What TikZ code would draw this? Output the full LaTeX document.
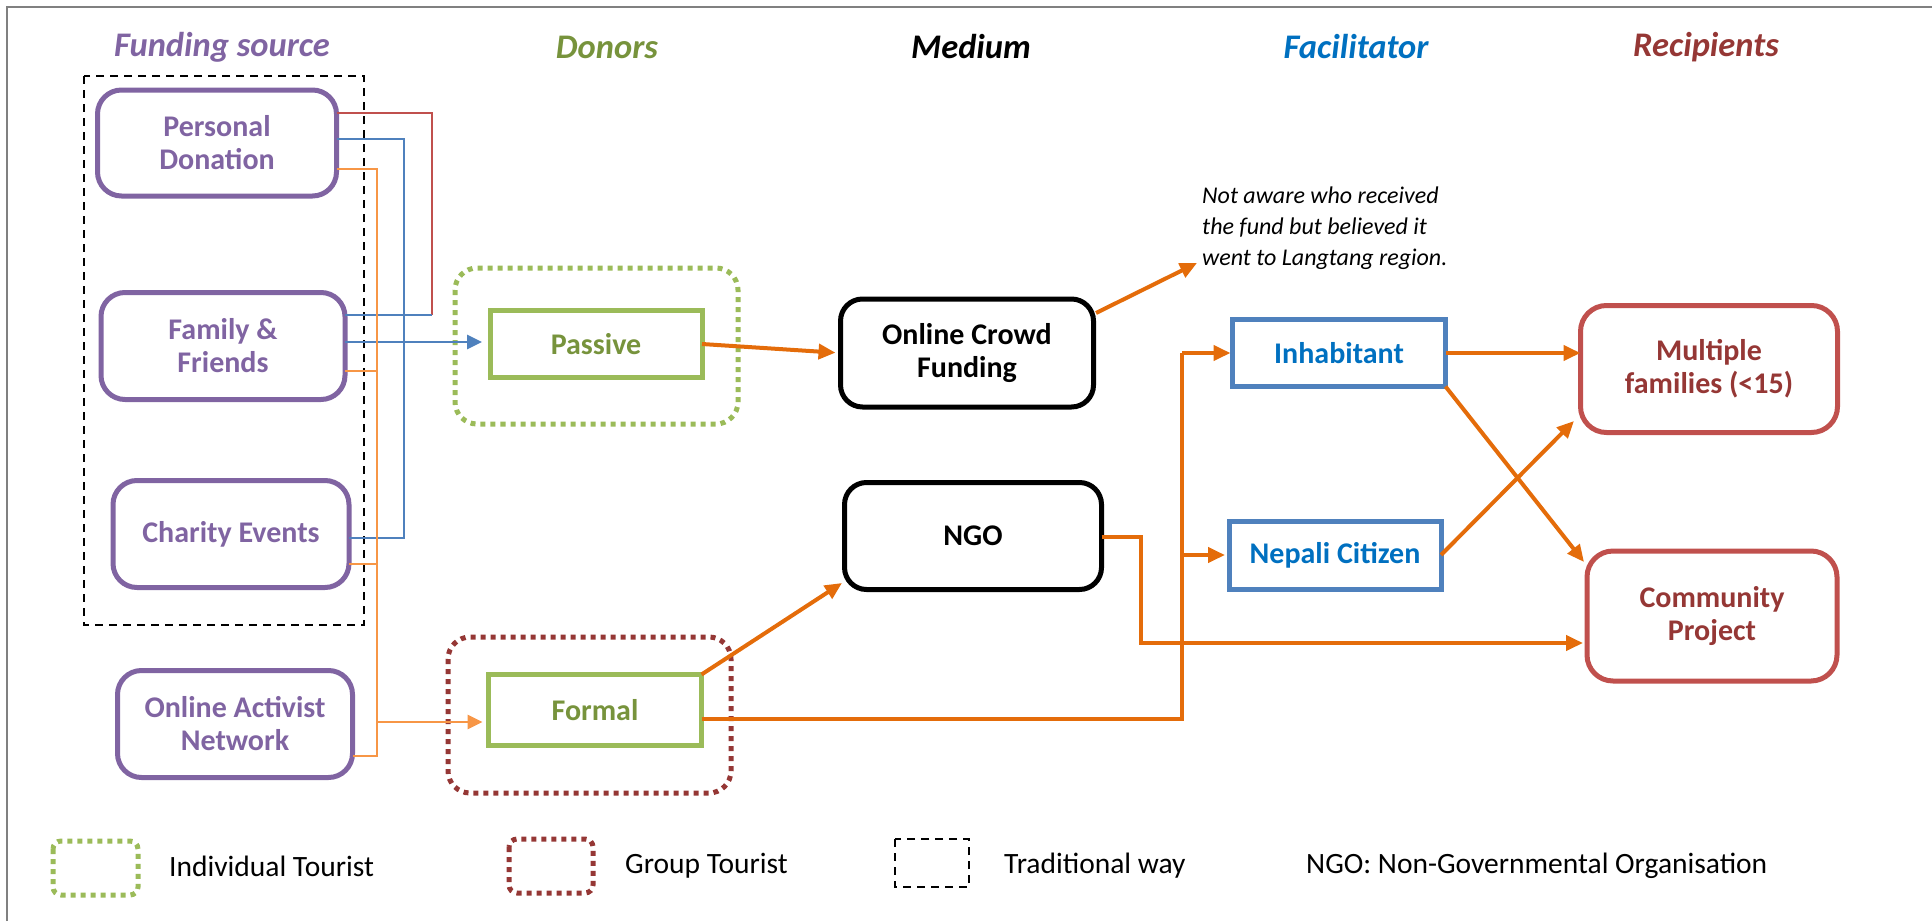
\documentclass[tikz,border=0pt]{standalone}
\usepackage{fontspec}
\setmainfont{Carlito}
\usetikzlibrary{arrows.meta}

\definecolor{purp}{HTML}{8064A2}
\definecolor{grn}{HTML}{9BBB59}
\definecolor{grntxt}{HTML}{77933C}
\definecolor{blu}{HTML}{4F81BD}
\definecolor{blutxt}{HTML}{0070C0}
\definecolor{rd}{HTML}{C0504D}
\definecolor{rdtxt}{HTML}{953735}
\definecolor{dkred}{HTML}{953735}
\definecolor{orng}{HTML}{E46C0A}
\definecolor{ltorng}{HTML}{F79646}
\definecolor{framegray}{HTML}{808080}

\tikzset{
  boxbase/.style={draw, line width=5pt, inner sep=0pt, outer sep=0pt, align=center,
    font=\fontsize{30}{33}\selectfont\bfseries},
  srcbox/.style={boxbase, draw=purp, text=purp, rounded corners=24pt},
  donorbox/.style={boxbase, draw=grn, text=grntxt},
  mediumbox/.style={boxbase, draw=black, text=black, rounded corners=22pt},
  facbox/.style={boxbase, draw=blu, text=blutxt},
  recbox/.style={boxbase, draw=rd, text=rdtxt, rounded corners=26pt},
  indiv/.style={draw=grn, line width=5pt, dash pattern=on 5pt off 5pt, rounded corners=22pt},
  group/.style={draw=dkred, line width=5pt, dash pattern=on 5pt off 5pt, rounded corners=22pt},
  legindiv/.style={draw=grn, line width=5pt, dash pattern=on 5pt off 5pt, rounded corners=8pt},
  leggroup/.style={draw=dkred, line width=5pt, dash pattern=on 5pt off 5pt, rounded corners=8pt},
  trad/.style={draw=black, line width=2.2pt, dash pattern=on 8pt off 6pt},
  heading/.style={font=\fontsize{34.5}{40}\selectfont\bfseries\itshape},
  legtext/.style={anchor=west, inner sep=0pt, font=\fontsize{29.5}{34}\selectfont},
  thinred/.style={draw=rd, line width=2pt},
  thinblue/.style={draw=blu, line width=2pt},
  thinorng/.style={draw=ltorng, line width=2pt},
  bluearrow/.style={draw=blu, line width=2.8pt, -{Triangle[length=15pt,width=14pt]}},
  orngarrow/.style={draw=ltorng, line width=2.8pt, -{Triangle[length=15pt,width=14pt]}},
  flow/.style={draw=orng, line width=4pt},
  flowarrow/.style={draw=orng, line width=4pt, -{Triangle[length=17pt,width=15pt]}},
}

\begin{document}
\begin{tikzpicture}[x=1pt,y=-1pt]
\useasboundingbox (0,0) rectangle (1932,921);

% frame
\draw[framegray, line width=2pt] (7,921) -- (7,7) -- (1932,7);

% column headings
\node[heading, text=purp]   (hsrc) at (222,47)  {Funding source};
\node[heading, text=grntxt] (hdon) at (607,47)  {Donors};
\node[heading, text=black]  (hmed) at (971,47)  {Medium};
\node[heading, text=blutxt] (hfac) at (1356,47) {Facilitator};
\node[heading, text=rdtxt]  (hrec) at (1706,47) {Recipients};

% group outlines
\draw[trad]  (84,76) rectangle (364,625);
\draw[indiv] (455,268) rectangle (738,424);
\draw[group] (448,637) rectangle (731,793);

% funding sources
\node[srcbox, minimum width=239pt, minimum height=106pt] (pd)  at (217,143) {Personal\\Donation};
\node[srcbox, minimum width=244pt, minimum height=107pt] (ff)  at (223,346) {Family \&\\Friends};
\node[srcbox, minimum width=236pt, minimum height=107pt] (ce)  at (231,534) {Charity Events};
\node[srcbox, minimum width=235pt, minimum height=107pt] (oan) at (235,724) {Online Activist\\Network};

% donors
\node[donorbox, minimum width=212pt, minimum height=67pt] (passive) at (596,344) {Passive};
\node[donorbox, minimum width=213pt, minimum height=71pt] (formal)  at (595,710) {Formal};

% media
\node[mediumbox, minimum width=253pt, minimum height=108pt] (ocf) at (967,353) {Online Crowd\\Funding};
\node[mediumbox, minimum width=257pt, minimum height=107pt] (ngo) at (973,536) {NGO};

% facilitators
\node[facbox, minimum width=213pt, minimum height=67pt] (inh) at (1339,353) {Inhabitant};
\node[facbox, minimum width=212pt, minimum height=68pt] (nc)  at (1335,555) {Nepali Citizen};

% recipients
\node[recbox, minimum width=257pt, minimum height=127pt] (mf) at (1709,369) {Multiple\\families (<15)};
\node[recbox, minimum width=250pt, minimum height=130pt] (cp) at (1712,616) {Community\\Project};

% note
\node[anchor=north west, inner sep=0pt, align=left,
      font=\fontsize{24}{31}\selectfont\itshape] (note) at (1202,187)
  {Not aware who received\\the fund but believed it\\went to Langtang region.};
\coordinate (noteptr) at (1197,263);

% thin connectors among the funding sources
\coordinate (rt) at (432,113);
\coordinate (rb) at (432,315);
\draw[thinred] (pd.east |- rt) -- (rt) -- (rb);
\draw[thinblue] (ff.east |- rb) -- (rb);

\coordinate (bt) at (404,139);
\coordinate (bb) at (404,538);
\draw[thinblue] (pd.east |- bt) -- (bt) -- (bb) -- (ce.east |- bb);
\coordinate (bf) at (404,342);
\draw[bluearrow, shorten >=8pt] (ff.east |- bf) -- (passive.west |- bf);

\coordinate (ot) at (377,169);
\coordinate (ob) at (377,756);
\coordinate (o1) at (377,371);
\coordinate (o2) at (377,564);
\coordinate (o3) at (377,722);
\draw[thinorng] (pd.east |- ot) -- (ot) -- (ob) -- (oan.east |- ob);
\draw[thinorng] (ff.east |- o1) -- (o1);
\draw[thinorng] (ce.east |- o2) -- (o2);
\draw[orngarrow, shorten >=6pt] (o3) -- (formal.west |- o3);

% main flows
\draw[flowarrow, shorten >=5pt] (passive.east) -- (ocf.west);
\coordinate (os) at (1096,313);
\draw[flowarrow] (os) -- (noteptr);

\coordinate (ngotip) at (842,583);
\draw[flowarrow] (formal.north east) -- (ngotip);

\coordinate (fj) at (1182,719);
\draw[flow] (formal.east |- fj) -- (fj) -- (fj |- inh.west);
\draw[flowarrow, shorten >=2pt] (fj |- inh.west) -- (inh.west);
\draw[flowarrow, shorten >=4pt] (fj |- nc.west) -- (nc.west);

\coordinate (nk1) at (1141,537);
\coordinate (nk2) at (1141,643);
\draw[flowarrow, shorten >=4pt] (ngo.east |- nk1) -- (nk1) -- (nk2) -- (cp.west |- nk2);

\draw[flowarrow] (inh.east) -- (mf.west |- inh.east);
\coordinate (cptip) at (1584,562);
\draw[flowarrow] (inh.south east) -- (cptip);
\coordinate (mftip) at (1574,421);
\draw[flowarrow] (nc.east) -- (mftip);

% legend
\draw[legindiv] (53,841) rectangle (138,895);
\node[legtext] (lindiv) at (169,866) {Individual Tourist};
\draw[leggroup] (509,839) rectangle (593,893);
\node[legtext] (lgroup) at (625,866) {Group Tourist};
\draw[trad] (895,839) rectangle (969,887);
\node[legtext] (ltrad) at (1004,866) {Traditional way};
\node[legtext] (lngo) at (1306,866) {NGO: Non-Governmental Organisation};
\end{tikzpicture}
\end{document}
